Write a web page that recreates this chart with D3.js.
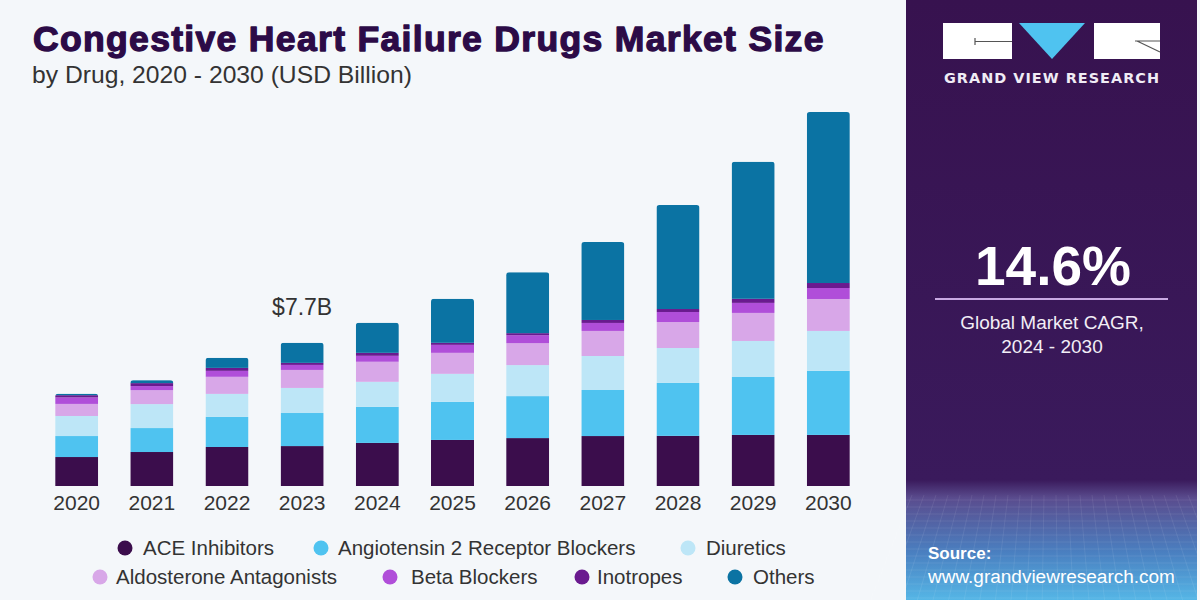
<!DOCTYPE html>
<html>
<head>
<meta charset="utf-8">
<script src="https://cdn.jsdelivr.net/npm/d3@7"></script>
<style>
  html, body { margin: 0; padding: 0; background: #f4f7fa; }
  svg { display: block; }
</style>
</head>
<body>
<svg id="chart" width="1200" height="600"></svg>
<script>
// ---------- DATA ----------
const years = ["2020","2021","2022","2023","2024","2025","2026","2027","2028","2029","2030"];
const seriesNames = ["ACE Inhibitors","Angiotensin 2 Receptor Blockers","Diuretics","Aldosterone Antagonists","Beta Blockers","Inotropes","Others"];
const aceInhibitors = [1.56,1.83,2.10,2.15,2.32,2.48,2.58,2.69,2.70,2.75,2.75];
const arbBlockers   = [1.13,1.29,1.62,1.78,1.94,2.05,2.26,2.48,2.85,3.12,3.45];
const diuretics     = [1.08,1.29,1.24,1.35,1.35,1.51,1.67,1.83,1.88,1.94,2.15];
const aldosterone   = [0.65,0.75,0.92,0.97,1.08,1.13,1.18,1.35,1.40,1.51,1.72];
const betaBlockers  = [0.35,0.22,0.32,0.27,0.32,0.43,0.43,0.43,0.54,0.54,0.59];
const inotropes     = [0.12,0.16,0.16,0.11,0.16,0.11,0.11,0.16,0.16,0.22,0.27];
const others        = [0.08,0.16,0.54,1.08,1.62,2.37,3.28,4.20,5.60,7.38,9.21];
const seriesColors  = ["#3b0d4c","#4fc3f0","#bde6f7","#d8a7e8","#b04ed9","#6a1a8f","#0b73a3"];
const annotationYear = "2023";
const annotationText = "$7.7B";
const cagrValue = "14.6%";
const cagrLabel = ["Global Market CAGR,", "2024 - 2030"];

// ---------- SETUP ----------
const svg = d3.select("#chart");
const seriesValues = [aceInhibitors, arbBlockers, diuretics, aldosterone, betaBlockers, inotropes, others];
const table = years.map((y, i) => {
  const row = { year: y };
  seriesNames.forEach((s, k) => row[s] = seriesValues[k][i]);
  return row;
});
const stack = d3.stack().keys(seriesNames)(table);
const color = d3.scaleOrdinal().domain(seriesNames).range(seriesColors);

const x = d3.scaleBand().domain(years).range([23, 882]).padding(0.428);
const y = d3.scaleLinear().domain([0, 21]).range([486, 96]);

svg.append("rect").attr("width", 1200).attr("height", 600).attr("fill", "#f4f7fa");

function fitWidth(sel, w) {
  const node = sel.node();
  const fs = parseFloat(sel.attr("font-size"));
  const len = node.getComputedTextLength();
  sel.attr("font-size", (fs * w / len).toFixed(2));
}

// ---------- TITLE ----------
const title = svg.append("text").attr("x", 33).attr("y", 51)
  .attr("font-family", "'Liberation Sans', Arial, sans-serif").attr("font-weight", "bold")
  .attr("font-size", 30).attr("fill", "#2c0b47").attr("letter-spacing", 1.3)
  .attr("stroke", "#2c0b47").attr("stroke-width", 1.3).attr("stroke-linejoin", "round")
  .text("Congestive Heart Failure Drugs Market Size");
fitWidth(title, 802);
const sub = svg.append("text").attr("x", 32).attr("y", 83)
  .attr("font-family", "'Liberation Sans', Arial, sans-serif")
  .attr("font-size", 20).attr("fill", "#333")
  .text("by Drug, 2020 - 2030 (USD Billion)");
fitWidth(sub, 380);

// ---------- BARS ----------
const defs = svg.append("defs");
years.forEach((yr, i) => {
  const total = d3.sum(seriesValues, s => s[i]);
  defs.append("clipPath").attr("id", "clip" + yr)
    .append("rect")
    .attr("x", x(yr)).attr("y", y(total))
    .attr("width", x.bandwidth()).attr("height", y(0) - y(total) + 10)
    .attr("rx", 3).attr("ry", 3);
});

const barG = svg.append("g");
const yearG = barG.selectAll("g.yr").data(years).join("g")
  .attr("class", "yr").attr("clip-path", d => `url(#clip${d})`);
yearG.each(function(yr, i) {
  d3.select(this).selectAll("rect").data(stack.map(s => ({ key: s.key, d: s[i] })))
    .join("rect")
    .attr("x", x(yr))
    .attr("width", x.bandwidth())
    .attr("y", d => y(d.d[1]))
    .attr("height", d => Math.max(0, y(d.d[0]) - y(d.d[1])))
    .attr("fill", d => color(d.key));
});

// year labels
svg.append("g").selectAll("text").data(years).join("text")
  .attr("x", d => x(d) + x.bandwidth() / 2)
  .attr("y", 510)
  .attr("text-anchor", "middle")
  .attr("font-family", "'Liberation Sans', Arial, sans-serif")
  .attr("font-size", 21).attr("fill", "#333")
  .text(d => d);

// annotation
{
  const i = years.indexOf(annotationYear);
  const total = d3.sum(seriesValues, s => s[i]);
  svg.append("text")
    .attr("x", x(annotationYear) + x.bandwidth() / 2)
    .attr("y", y(total) - 28)
    .attr("text-anchor", "middle")
    .attr("font-family", "'Liberation Sans', Arial, sans-serif")
    .attr("font-size", 23).attr("fill", "#333")
    .text(annotationText);
}

// ---------- LEGEND ----------
const legendPos = [
  { cx: 125, tx: 143, cy: 548 },
  { cx: 321, tx: 338, cy: 548 },
  { cx: 688, tx: 706, cy: 548 },
  { cx: 100, tx: 116, cy: 577 },
  { cx: 390, tx: 411, cy: 577 },
  { cx: 582, tx: 597, cy: 577 },
  { cx: 735, tx: 753, cy: 577 }
];
const legend = svg.append("g").selectAll("g").data(seriesNames).join("g");
legend.append("circle")
  .attr("cx", (d, i) => legendPos[i].cx).attr("cy", (d, i) => legendPos[i].cy)
  .attr("r", 7.5).attr("fill", d => color(d));
legend.append("text")
  .attr("x", (d, i) => legendPos[i].tx).attr("y", (d, i) => legendPos[i].cy + 7)
  .attr("font-family", "'Liberation Sans', Arial, sans-serif")
  .attr("font-size", 20.5).attr("fill", "#333")
  .text(d => d);

// ---------- RIGHT PANEL ----------
const panelGrad = defs.append("linearGradient").attr("id", "pgrad")
  .attr("x1", 0).attr("y1", 0).attr("x2", 0).attr("y2", 1);
panelGrad.append("stop").attr("offset", "0%").attr("stop-color", "#37124f");
panelGrad.append("stop").attr("offset", "80%").attr("stop-color", "#3a1a5c");
panelGrad.append("stop").attr("offset", "83%").attr("stop-color", "#5a4c8e");
panelGrad.append("stop").attr("offset", "92%").attr("stop-color", "#4a7fc0");
panelGrad.append("stop").attr("offset", "100%").attr("stop-color", "#55b6e6");
svg.append("rect").attr("x", 906).attr("y", 0).attr("width", 291).attr("height", 600)
  .attr("fill", "url(#pgrad)");

const grid = svg.append("g").attr("stroke", "#ffffff").attr("stroke-opacity", 0.08).attr("stroke-width", 1);
d3.range(500, 600, 7).forEach(v => grid.append("line").attr("x1", 906).attr("x2", 1197).attr("y1", v).attr("y2", v));
d3.range(912, 1197, 12).forEach(v => grid.append("line").attr("x1", v).attr("x2", v + (v - 1050) * 0.3).attr("y1", 495).attr("y2", 600));

// logo
const logo = svg.append("g");
logo.append("rect").attr("x", 943).attr("y", 23).attr("width", 69).attr("height", 36).attr("fill", "#ffffff");
logo.append("path").attr("d", "M1019,23 L1085,23 L1052,59 Z").attr("fill", "#4fc3f0");
logo.append("rect").attr("x", 1094).attr("y", 23).attr("width", 66).attr("height", 36).attr("fill", "#ffffff");
logo.append("path").attr("d", "M975,38 L975,45 M975,41.5 L1012,41.5").attr("stroke", "#555").attr("stroke-width", 1.2).attr("fill", "none");
logo.append("path").attr("d", "M1135,41 L1160,41 M1137,41 L1160,52").attr("stroke", "#555").attr("stroke-width", 1.2).attr("fill", "none");
logo.append("text").attr("x", 944).attr("y", 83)
  .attr("font-family", "'DejaVu Sans', sans-serif").attr("font-weight", "bold")
  .attr("font-size", 14).attr("fill", "#f0ecf5").attr("letter-spacing", 1)
  .attr("textLength", 216).attr("lengthAdjust", "spacingAndGlyphs")
  .text("GRAND VIEW RESEARCH");

// CAGR
svg.append("text").attr("x", 1053).attr("y", 285).attr("text-anchor", "middle")
  .attr("font-family", "'Liberation Sans', Arial, sans-serif").attr("font-weight", "bold")
  .attr("font-size", 55).attr("fill", "#ffffff").text(cagrValue);
svg.append("line").attr("x1", 935).attr("x2", 1168).attr("y1", 299).attr("y2", 299)
  .attr("stroke", "#c8a9e2").attr("stroke-width", 2);
svg.append("g").selectAll("text").data(cagrLabel).join("text")
  .attr("x", 1052).attr("y", (d, i) => 329 + i * 24).attr("text-anchor", "middle")
  .attr("font-family", "'Liberation Sans', Arial, sans-serif")
  .attr("font-size", 19).attr("fill", "#f2eef6").text(d => d);

// source
svg.append("text").attr("x", 928).attr("y", 559)
  .attr("font-family", "'Liberation Sans', Arial, sans-serif").attr("font-weight", "bold")
  .attr("font-size", 17).attr("fill", "#ffffff").text("Source:");
const src = svg.append("text").attr("x", 928).attr("y", 583)
  .attr("font-family", "'Liberation Sans', Arial, sans-serif")
  .attr("font-size", 17).attr("fill", "#ffffff").text("www.grandviewresearch.com");
fitWidth(src, 247);
</script>
</body>
</html>
